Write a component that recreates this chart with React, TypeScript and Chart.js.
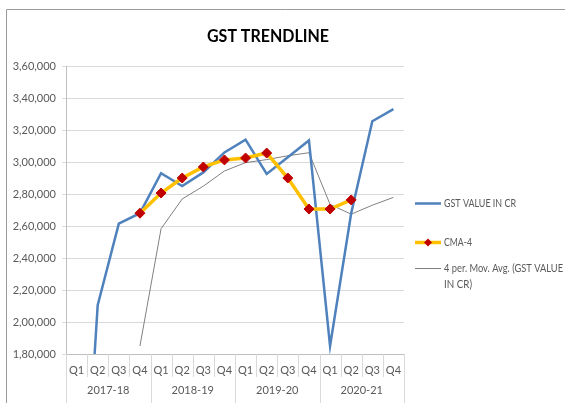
import React, { useEffect, useRef } from "react";
import { Chart, registerables } from "chart.js";

Chart.register(...registerables);

const years = ["2017-18", "2018-19", "2019-20", "2020-21"];
const quarters = ["Q1", "Q2", "Q3", "Q4"];
const categories = years.flatMap((y) => quarters.map((q) => `${q} ${y}`));

const gstValues = [0, 210500, 261500, 268000, 293000, 285000, 293500, 306000, 314000, 292500, 303000, 313500, 185000, 268000, 325500, 333000];
const cmaValues = [null, null, null, 268000, 280600, 290000, 296900, 301300, 302500, 305600, 290000, 270600, 270600, 276300, null, null];
const maValues = [null, null, null, 185000, 258300, 276900, 284900, 294400, 299600, 301500, 303900, 305800, 273500, 267400, 273000, 277900];

const yTicks = { min: 180000, max: 360000, step: 20000 };
const titleText = "GST TRENDLINE";
const legendLabels = ["GST VALUE IN CR", "CMA-4", "4 per. Mov. Avg. (GST VALUE IN CR)"];

const FONT = "Lato, 'Open Sans', sans-serif";
const TEXT = "#595959";

function indian(v: number): string {
  const s = Math.round(v).toString();
  if (s.length <= 3) return s;
  const last3 = s.slice(-3);
  let rest = s.slice(0, -3);
  const parts: string[] = [];
  while (rest.length > 2) {
    parts.unshift(rest.slice(-2));
    rest = rest.slice(0, -2);
  }
  if (rest) parts.unshift(rest);
  return parts.join(",") + "," + last3;
}

const decorPlugin = {
  id: "decor",
  afterDraw(chart: any) {
    const ctx = chart.ctx as CanvasRenderingContext2D;
    const area = chart.chartArea;
    const xs = chart.scales.x;
    ctx.save();
    // frame
    ctx.strokeStyle = "#9a9a9a";
    ctx.lineWidth = 1;
    ctx.beginPath();
    ctx.moveTo(6.5, 403);
    ctx.lineTo(6.5, 9.5);
    ctx.lineTo(565, 9.5);
    ctx.stroke();

    // title
    ctx.fillStyle = "#000";
    ctx.font = `bold 16.5px ${FONT}`;
    ctx.textAlign = "center";
    ctx.textBaseline = "middle";
    ctx.fillText(titleText, 268, 37, 122);

    // x axis multi-level labels
    const n = categories.length;
    const w = (area.right - area.left) / n;
    ctx.strokeStyle = "#d9d9d9";
    ctx.lineWidth = 1;
    for (let k = 0; k <= n; k++) {
      const x = Math.round(area.left + k * w) + 0.5;
      const isGroup = k % quarters.length === 0;
      ctx.beginPath();
      ctx.moveTo(x, area.bottom);
      ctx.lineTo(x, isGroup ? 403 : area.bottom + 23);
      ctx.stroke();
    }
    ctx.fillStyle = TEXT;
    ctx.font = `11px ${FONT}`;
    for (let i = 0; i < n; i++) {
      const x = xs.getPixelForValue(i);
      ctx.fillText(quarters[i % quarters.length], x, area.bottom + 16);
    }
    years.forEach((y, gi) => {
      const x0 = area.left + gi * quarters.length * w;
      const x1 = x0 + quarters.length * w;
      ctx.fillText(y, (x0 + x1) / 2, area.bottom + 36);
    });

    // legend
    const lx0 = 415;
    const lx1 = 441;
    const tx = 444;
    ctx.textAlign = "left";
    const ds = chart.data.datasets;
    // item 1
    let y = 203.5;
    ctx.strokeStyle = ds[0].borderColor;
    ctx.lineWidth = 2.5;
    ctx.beginPath();
    ctx.moveTo(lx0, y);
    ctx.lineTo(lx1, y);
    ctx.stroke();
    ctx.fillText(legendLabels[0], tx, y, 72);
    // item 2
    y = 242.5;
    ctx.strokeStyle = ds[1].borderColor;
    ctx.lineWidth = 3.5;
    ctx.beginPath();
    ctx.moveTo(lx0, y);
    ctx.lineTo(lx1, y);
    ctx.stroke();
    ctx.fillStyle = ds[1].pointBackgroundColor;
    ctx.beginPath();
    const cx = (lx0 + lx1) / 2;
    ctx.moveTo(cx, y - 4);
    ctx.lineTo(cx + 4, y);
    ctx.lineTo(cx, y + 4);
    ctx.lineTo(cx - 4, y);
    ctx.closePath();
    ctx.fill();
    ctx.fillStyle = TEXT;
    ctx.fillText(legendLabels[1], tx, y, 28);
    // item 3
    y = 268.5;
    ctx.strokeStyle = ds[2].borderColor;
    ctx.lineWidth = 1;
    ctx.beginPath();
    ctx.moveTo(lx0, y);
    ctx.lineTo(lx1, y);
    ctx.stroke();
    ctx.fillText("4 per. Mov. Avg. (GST VALUE", tx, y, 119);
    ctx.fillText("IN CR)", tx, y + 16, 28);
    ctx.restore();
  },
};

export default function App() {
  const ref = useRef<HTMLCanvasElement | null>(null);
  useEffect(() => {
    if (!ref.current) return;
    const chart = new Chart(ref.current, {
      type: "line",
      data: {
        labels: categories,
        datasets: [
          {
            label: legendLabels[0],
            data: gstValues,
            borderColor: "#4f81bd",
            borderWidth: 2.5,
            pointRadius: 0,
            tension: 0,
            order: 1,
          },
          {
            label: legendLabels[1],
            data: cmaValues,
            borderColor: "#ffc000",
            borderWidth: 3.5,
            pointRadius: 5,
            pointStyle: "rectRot",
            pointBackgroundColor: "#c00000",
            pointBorderColor: "#c00000",
            pointBorderWidth: 1,
            tension: 0,
            order: 0,
          },
          {
            label: legendLabels[2],
            data: maValues,
            borderColor: "#808080",
            borderWidth: 1,
            pointRadius: 0,
            tension: 0,
            order: 2,
          },
        ],
      },
      options: {
        responsive: false,
        animation: false,
        devicePixelRatio: 1,
        layout: { padding: { left: 6, top: 66, right: 161, bottom: 0 } },
        plugins: {
          legend: { display: false },
          title: { display: false },
          tooltip: { enabled: false },
        },
        scales: {
          x: {
            type: "category",
            offset: true,
            grid: { display: false },
            border: { display: true, color: "#bfbfbf" },
            ticks: { display: false },
            afterFit: (s: any) => {
              s.height = 49;
            },
          },
          y: {
            min: yTicks.min,
            max: yTicks.max,
            ticks: {
              stepSize: yTicks.step,
              color: TEXT,
              font: { family: FONT, size: 11 },
              padding: 6,
              callback: (v: any) => indian(Number(v)),
            },
            grid: { color: "#d9d9d9", tickLength: 4, drawTicks: true },
            border: { display: true, color: "#bfbfbf" },
            afterFit: (s: any) => {
              s.width = 60;
            },
          },
        },
      },
      plugins: [decorPlugin],
    });
    return () => chart.destroy();
  }, []);
  return (
    <canvas
      ref={ref}
      width={565}
      height={403}
      style={{ position: "fixed", left: 0, top: 0, background: "#fff" }}
    />
  );
}
